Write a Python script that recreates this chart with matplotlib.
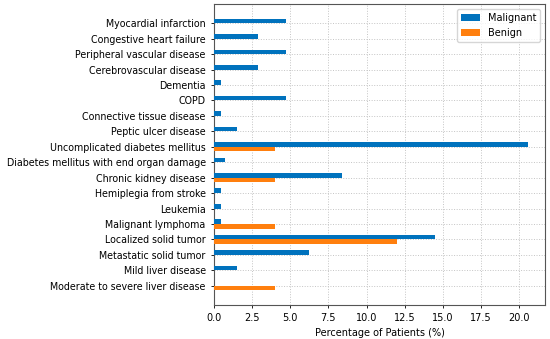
import numpy as np
import matplotlib
matplotlib.use('Agg')
import matplotlib.pyplot as plt

conditions = [
    'Myocardial infarction', 'Congestive heart failure', 'Peripheral vascular disease',
    'Cerebrovascular disease', 'Dementia', 'COPD', 'Connective tissue disease',
    'Peptic ulcer disease', 'Uncomplicated diabetes mellitus',
    'Diabetes mellitus with end organ damage', 'Chronic kidney disease',
    'Hemiplegia from stroke', 'Leukemia', 'Malignant lymphoma',
    'Localized solid tumor', 'Metastatic solid tumor', 'Mild liver disease',
    'Moderate to severe liver disease',
]
malignant = [4.7, 2.9, 4.7, 2.9, 0.43, 4.7, 0.43, 1.5, 20.6, 0.7, 8.4, 0.43, 0.43, 0.43, 14.5, 6.2, 1.5, 0.0]
benign = [0, 0, 0, 0, 0, 0, 0, 0, 4.0, 0, 4.0, 0, 0, 4.0, 12.0, 0, 0, 4.0]

fig = plt.figure(figsize=(5.5, 3.39), dpi=100)
ax = fig.add_axes([214 / 550, 1 - 305 / 339, 331 / 550, 301 / 339])

y = np.arange(len(conditions))
h = 0.3
ax.barh(y - h / 2, malignant, height=h, color='#0072BD', label='Malignant', zorder=3)
ax.barh(y + h / 2, benign, height=h, color='#FF7F0E', label='Benign', zorder=3)

ax.set_yticks(y)
ax.set_yticklabels(conditions, fontsize=6.85)
ax.set_ylim(len(conditions) + 0.25, -1.25)
ax.set_xlim(0, 21.7)
ax.set_xticks(np.arange(0, 21, 2.5))
ax.tick_params(axis='x', labelsize=7)
ax.tick_params(axis='both', length=2.5, width=0.6)
ax.set_xlabel('Percentage of Patients (%)', fontsize=7, labelpad=3)
ax.grid(True, linestyle=':', linewidth=0.7, color='#c4c4c4', zorder=0)
for s in ax.spines.values():
    s.set_linewidth(0.8)
    s.set_color('#555555')
ax.legend(loc='upper right', fontsize=7)

fig.savefig('out.png', dpi=100)
